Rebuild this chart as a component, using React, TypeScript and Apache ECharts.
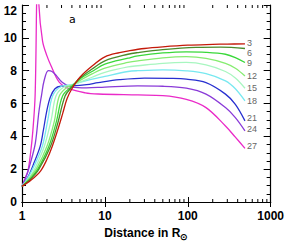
import React, { useEffect, useRef } from "react";
import * as echarts from "echarts";

// Curves: [distance (R_sun), value]
const c3 = [[1,0.95],[1.3,1.35],[1.68,1.9],[2,2.6],[2.32,3.4],[2.7,4.4],[3.1,5.4],[3.5,6.3],[4,6.9],[5,7.6],[6.9,8.25],[10,8.84],[15,9.1],[20,9.22],[30,9.35],[50,9.45],[100,9.55],[200,9.6],[300,9.62],[490,9.63]];
const c6 = [[1,0.95],[1.3,1.45],[1.6,2.0],[2.21,3.4],[2.7,4.8],[3.31,6.46],[4,7.0],[5,7.55],[7,8.1],[10,8.6],[19,9.0],[25,9.1],[50,9.28],[126,9.42],[250,9.44],[490,9.35]];
const c9 = [[1,0.95],[1.3,1.5],[1.55,2.0],[2.11,3.4],[2.6,4.9],[3.09,6.46],[4,7.05],[5,7.5],[7,7.95],[10,8.4],[19,8.76],[25,8.9],[50,9.08],[96,9.15],[166,9.12],[285,9.0],[375,8.8],[490,8.5]];
const c12 = [[1,0.95],[1.25,1.5],[1.5,2.05],[2.0,3.4],[2.45,4.9],[2.82,6.46],[3.5,7.0],[4,7.1],[5,7.4],[7,7.8],[10,8.15],[19,8.5],[25,8.6],[50,8.78],[96,8.85],[166,8.75],[285,8.45],[375,8.15],[490,7.68]];
const c15 = [[1,0.95],[1.25,1.55],[1.45,2.1],[1.86,3.4],[2.25,5.0],[2.57,6.46],[3.2,7.0],[4,7.12],[5,7.3],[7,7.6],[10,7.9],[19,8.23],[25,8.3],[50,8.45],[96,8.5],[166,8.35],[285,7.95],[375,7.55],[490,6.93]];
const c18 = [[1,0.95],[1.2,1.55],[1.4,2.2],[1.76,3.4],[2.05,5.0],[2.34,6.46],[3,7.05],[4,7.15],[6,7.4],[10,7.65],[19,7.95],[25,8.0],[50,8.05],[96,7.99],[166,7.82],[285,7.38],[375,6.9],[490,6.16]];
const c21 = [[1,0.95],[1.2,1.6],[1.4,2.4],[1.66,3.4],[1.8,4.3],[2,5.6],[2.2,6.4],[2.5,6.9],[2.94,7.05],[4,7.07],[6,7.15],[8.3,7.27],[15,7.45],[30,7.55],[60,7.53],[96,7.48],[166,7.27],[285,6.57],[375,5.95],[490,4.94]];
const c24 = [[1,0.95],[1.15,1.7],[1.3,2.6],[1.45,3.6],[1.6,5.5],[1.72,6.5],[1.85,7.4],[2.08,8.0],[2.3,7.95],[2.6,7.7],[3.05,7.3],[4,7.0],[6,6.95],[10,7.0],[25,7.07],[50,7.05],[96,6.93],[166,6.57],[285,5.75],[375,5.14],[490,4.33]];
const c27 = [[1,0.95],[1.1,1.5],[1.18,1.9],[1.27,3.0],[1.35,4.3],[1.44,6.5],[1.5,12],[1.55,16],[1.6,12],[1.77,9.8],[2.0,8.9],[2.24,8.3],[2.81,7.3],[3.7,6.9],[5.8,6.65],[8.3,6.58],[25,6.52],[50,6.48],[96,6.25],[166,5.75],[285,4.63],[375,3.95],[490,3.27]];

const curves = [c3, c6, c9, c12, c15, c18, c21, c24, c27];
const curveLabels = ["3", "6", "9", "12", "15", "18", "21", "24", "27"];
const curveColors = ["#c41a0a", "#4a8a2a", "#3ad83a", "#86ec70", "#a8f6c0", "#78e8f0", "#2830d0", "#8a3ad8", "#ea2ac8"];
const labelDy = [-1, 4, 1, 0, 0, 0, -3, -2, -2];

const xMinorTicks = [2,3,4,5,6,7,8,9,20,30,40,50,60,70,80,90,200,300,400,500,600,700,800,900];
const panelLabel = "a";
const xTitle = "Distance in R{sub|⊙}";

const FONT = "'Liberation Sans', Arial, sans-serif";

export default function App() {
  const ref = useRef<HTMLDivElement>(null);
  useEffect(() => {
    document.body.style.margin = "0";
    const chart = echarts.init(ref.current!, undefined, { renderer: "svg" });
    const axisLabelStyle = { color: "#000", fontSize: 12, fontWeight: "bold" as const, fontFamily: FONT };
    const lineSeries = curves.map((c, i) => ({
      type: "line",
      data: c,
      xAxisIndex: 0,
      yAxisIndex: 0,
      showSymbol: false,
      smooth: 0.35,
      clip: true,
      lineStyle: { color: curveColors[i], width: 1.3 },
      itemStyle: { color: curveColors[i] },
      endLabel: {
        show: true,
        formatter: curveLabels[i],
        color: "#666",
        fontSize: 9,
        fontFamily: FONT,
        distance: 2,
        offset: [0, labelDy[i]],
      },
      z: 3 + (curves.length - i),
    }));
    const option: any = {
      animation: false,
      grid: { left: 22, right: 10, top: 5, bottom: 45, show: false },
      xAxis: [
        {
          type: "log",
          logBase: 10,
          min: 1,
          max: 1000,
          position: "bottom",
          axisLine: { show: true, lineStyle: { color: "#000", width: 1.2 } },
          axisTick: { show: true, inside: true, length: 5, lineStyle: { color: "#000" } },
          axisLabel: { ...axisLabelStyle, margin: 8, formatter: (v: number) => String(Math.round(v)) },
          splitLine: { show: false },
          name: xTitle,
          nameLocation: "middle",
          nameGap: 19,
          nameTextStyle: {
            color: "#000",
            fontSize: 12,
            fontWeight: "bold",
            fontFamily: FONT,
            rich: { sub: { fontSize: 9, fontWeight: "bold", fontFamily: FONT, color: "#000", padding: [9, 0, 0, 0] } },
          },
        },
        {
          type: "log",
          logBase: 10,
          min: 1,
          max: 1000,
          position: "top",
          axisLine: { show: true, lineStyle: { color: "#000", width: 1.2 } },
          axisTick: { show: true, inside: true, length: 5, lineStyle: { color: "#000" } },
          axisLabel: { show: false },
          splitLine: { show: false },
        },
      ],
      yAxis: [
        {
          type: "value",
          min: 0,
          max: 12,
          interval: 2,
          position: "left",
          axisLine: { show: true, lineStyle: { color: "#000", width: 1.2 } },
          axisTick: { show: true, inside: true, length: 7, lineStyle: { color: "#000" } },
          minorTick: { show: true, splitNumber: 4, length: 4, lineStyle: { color: "#000" } },
          axisLabel: { ...axisLabelStyle, margin: 5, verticalAlignMaxLabel: "top" },
          splitLine: { show: false },
          minorSplitLine: { show: false },
        },
        {
          type: "value",
          min: 0,
          max: 12,
          interval: 2,
          position: "right",
          axisLine: { show: true, lineStyle: { color: "#000", width: 1.2 } },
          axisTick: { show: true, inside: true, length: 7, lineStyle: { color: "#000" } },
          minorTick: { show: true, splitNumber: 4, length: 4, lineStyle: { color: "#000" } },
          axisLabel: { show: false },
          splitLine: { show: false },
          minorSplitLine: { show: false },
        },
      ],
      graphic: [
        {
          type: "text",
          left: 69,
          top: 14,
          style: { text: panelLabel, font: "11px 'DejaVu Sans', sans-serif", fill: "#000" },
        },
      ],
      series: [
        ...lineSeries,
        {
          type: "custom",
          xAxisIndex: 0,
          yAxisIndex: 0,
          silent: true,
          clip: false,
          data: xMinorTicks.map((v) => [v, 1]),
          encode: { x: 0, y: 1 },
          renderItem: (params: any, api: any) => {
            const cs = params.coordSys;
            const p = api.coord([api.value(0), 1]);
            const x = p[0];
            const bottom = cs.y + cs.height;
            const st = { stroke: "#000", lineWidth: 1 };
            return {
              type: "group",
              children: [
                { type: "line", shape: { x1: x, y1: bottom, x2: x, y2: bottom - 3 }, style: st },
                { type: "line", shape: { x1: x, y1: cs.y, x2: x, y2: cs.y + 3 }, style: st },
              ],
            };
          },
        },
      ],
    };
    chart.setOption(option);
    return () => chart.dispose();
  }, []);
  return <div ref={ref} style={{ width: 287, height: 247 }} />;
}
